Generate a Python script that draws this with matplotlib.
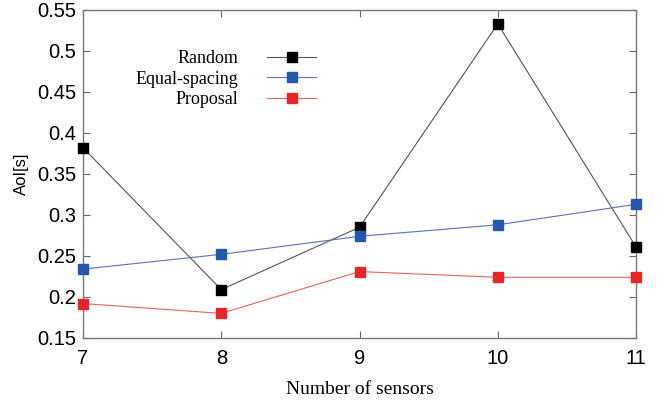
import matplotlib.pyplot as plt

# Data
sensors = [7, 8, 9, 10, 11]
random_aoi = [0.382, 0.209, 0.285, 0.533, 0.261]
equal_aoi = [0.234, 0.252, 0.274, 0.288, 0.313]
proposal_aoi = [0.192, 0.180, 0.231, 0.224, 0.224]
yticks = [0.15, 0.2, 0.25, 0.3, 0.35, 0.4, 0.45, 0.5, 0.55]
ytick_labels = ['0.15', '0.2', '0.25', '0.3', '0.35', '0.4', '0.45', '0.5', '0.55']

fig = plt.figure(figsize=(6.72, 4.08), dpi=100)
ax = fig.add_axes([0.1235, 0.1716, 0.823, 0.804])

ax.plot(sensors, random_aoi, color='#555555', lw=0.8, marker='s', ms=7.5,
        mfc='black', mec='black', label='Random', clip_on=False, zorder=3)
ax.plot(sensors, equal_aoi, color='#5a6fc0', lw=0.8, marker='s', ms=7.5,
        mfc='#2457b0', mec='#2457b0', label='Equal-spacing', clip_on=False, zorder=3)
ax.plot(sensors, proposal_aoi, color='#e86060', lw=0.8, marker='s', ms=7.5,
        mfc='#e8262a', mec='#e8262a', label='Proposal', clip_on=False, zorder=3)

ax.set_xlim(7, 11)
ax.set_ylim(0.15, 0.55)
ax.set_xticks(sensors)
ax.set_yticks(yticks)
ax.set_yticklabels(ytick_labels)
ax.tick_params(direction='in', top=True, right=True, length=5, width=0.8,
               color='#666666', labelsize=14.5)
ax.tick_params(axis='x', pad=8)
ax.tick_params(axis='y', pad=5)
for lab in ax.get_xticklabels() + ax.get_yticklabels():
    lab.set_fontfamily('Liberation Sans')
for s in ax.spines.values():
    s.set_color('#777777')
    s.set_linewidth(1.0)

ax.set_xlabel('Number of sensors', fontfamily='Liberation Serif', fontsize=14, labelpad=9)
ax.set_ylabel('AoI[s]', fontfamily='Liberation Sans', fontsize=12, labelpad=6)

leg = ax.legend(loc='upper left', bbox_to_anchor=(0.066, 0.926), frameon=False,
                markerfirst=False, handlelength=2.7, handletextpad=1.6,
                labelspacing=0.18, prop={'family': 'Liberation Serif', 'size': 13})

fig.savefig('out.png', dpi=100)
